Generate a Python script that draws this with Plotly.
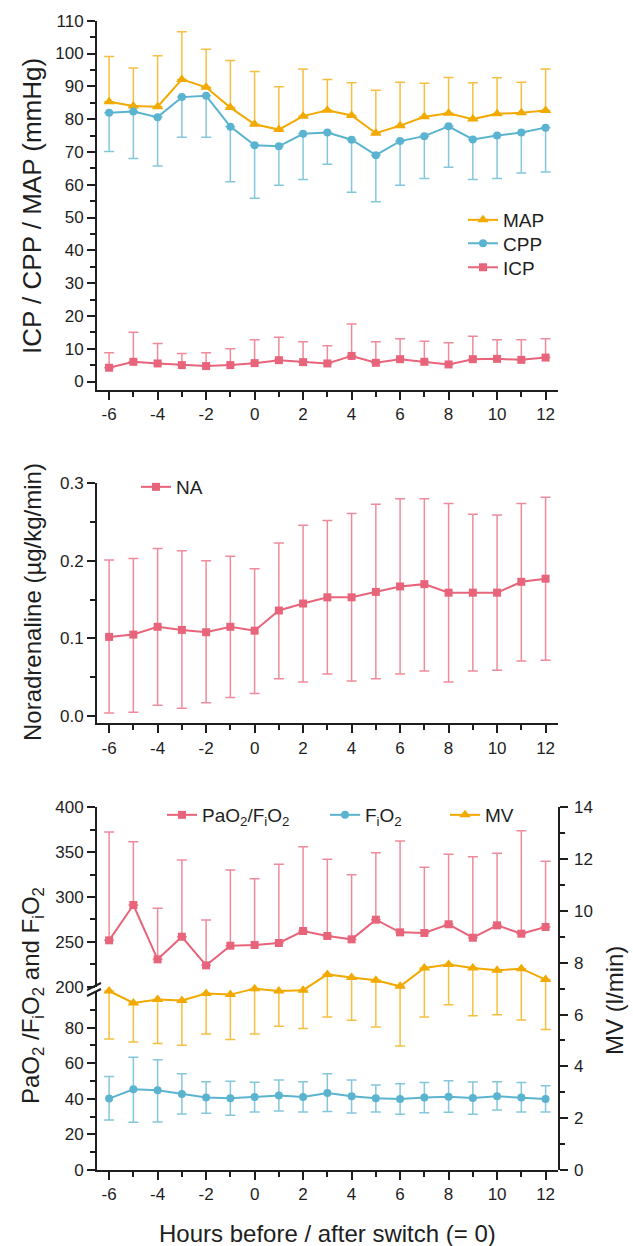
import plotly.graph_objects as go

W, H = 633, 1246

# ---------------- data ----------------
hours = list(range(-6, 13))
x_tickvals = [-6, -4, -2, 0, 2, 4, 6, 8, 10, 12]
x_ticktext = ["-6", "-4", "-2", "0", "2", "4", "6", "8", "10", "12"]
x_minor = [-5, -3, -1, 1, 3, 5, 7, 9, 11]

map_mean = [85.3, 84.0, 83.8, 92.1, 89.7, 83.5, 78.4, 76.8, 80.9, 82.7, 81.1, 75.7, 78.0, 80.7, 81.8, 80.0, 81.6, 81.9, 82.6]
map_upper = [99.1, 95.6, 99.3, 106.6, 101.3, 97.9, 94.5, 89.9, 95.3, 92.1, 91.1, 88.8, 91.2, 90.9, 92.7, 91.1, 92.6, 91.2, 95.3]
cpp_mean = [81.9, 82.3, 80.6, 86.7, 87.1, 77.7, 72.0, 71.7, 75.5, 75.9, 73.7, 69.0, 73.3, 74.8, 77.8, 73.8, 75.0, 75.9, 77.4]
cpp_lower = [70.1, 68.0, 65.7, 74.5, 74.5, 60.9, 55.9, 59.8, 61.6, 66.2, 57.7, 54.8, 59.8, 61.9, 65.3, 61.6, 61.9, 63.6, 63.9]
icp_mean = [4.2, 6.0, 5.5, 5.0, 4.7, 5.0, 5.6, 6.5, 5.9, 5.5, 7.8, 5.7, 6.8, 6.0, 5.2, 6.8, 6.9, 6.6, 7.3]
icp_upper = [8.8, 15.0, 11.6, 8.5, 8.8, 10.0, 12.7, 13.5, 12.1, 10.9, 17.5, 12.1, 13.0, 12.3, 11.8, 13.8, 12.7, 12.7, 13.0]
top_yticks = [0, 10, 20, 30, 40, 50, 60, 70, 80, 90, 100, 110]
top_yminor = [5, 15, 25, 35, 45, 55, 65, 75, 85, 95, 105]

na_mean = [0.102, 0.105, 0.115, 0.111, 0.108, 0.115, 0.110, 0.136, 0.145, 0.153, 0.153, 0.160, 0.167, 0.170, 0.159, 0.159, 0.159, 0.173, 0.177]
na_upper = [0.201, 0.203, 0.216, 0.213, 0.200, 0.206, 0.190, 0.223, 0.246, 0.252, 0.261, 0.273, 0.280, 0.280, 0.274, 0.260, 0.259, 0.274, 0.282]
na_lower = [0.004, 0.005, 0.014, 0.010, 0.017, 0.024, 0.029, 0.048, 0.044, 0.054, 0.045, 0.048, 0.054, 0.058, 0.044, 0.058, 0.059, 0.071, 0.072]
mid_yticks = [0.0, 0.1, 0.2, 0.3]
mid_yminor = [0.05, 0.15, 0.25]

pf_mean = [251.7, 291.1, 230.5, 255.7, 223.8, 245.7, 246.5, 248.7, 262.1, 256.5, 252.8, 274.7, 260.6, 259.9, 269.6, 254.6, 268.4, 259.1, 266.6]
pf_upper = [372.5, 361.7, 287.4, 341.2, 274.4, 330.1, 320.4, 336.5, 356.1, 342.0, 324.9, 349.4, 362.4, 333.1, 347.6, 344.9, 348.7, 373.9, 339.8]
fio2_mean = [40.1, 45.3, 44.8, 42.7, 40.8, 40.3, 41.0, 41.8, 41.0, 43.3, 41.4, 40.3, 39.9, 40.8, 41.2, 40.5, 41.4, 40.8, 39.9]
fio2_upper = [52.5, 63.3, 62.0, 54.1, 49.6, 49.8, 49.3, 50.6, 49.6, 54.1, 50.6, 47.8, 48.5, 49.1, 50.2, 49.5, 49.6, 49.1, 47.4]
fio2_lower = [28.1, 26.8, 27.0, 31.5, 31.9, 30.7, 32.6, 33.2, 32.6, 32.8, 32.0, 32.6, 31.3, 32.2, 32.4, 31.3, 33.7, 32.6, 32.6]
mv_mean = [6.91, 6.45, 6.58, 6.54, 6.81, 6.77, 7.00, 6.91, 6.94, 7.55, 7.43, 7.32, 7.09, 7.80, 7.93, 7.80, 7.71, 7.77, 7.35]
mv_lower = [5.06, 4.94, 4.88, 4.82, 5.25, 5.04, 5.25, 5.55, 5.46, 5.91, 5.78, 5.52, 4.79, 5.91, 6.38, 5.95, 5.99, 5.79, 5.42]
low_yticks = [0, 20, 40, 60, 80]
low_yminor = [10, 30, 50, 70, 90]
up_yticks = [200, 250, 300, 350, 400]
up_yminor = [225, 275, 325, 375]
mv_yticks = [0, 2, 4, 6, 8, 10, 12, 14]
mv_yminor = [1, 3, 5, 7, 9, 11, 13]

# ---------------- style ----------------
ORANGE = "#F2A900"
BLUE = "#5BB4CF"
RED = "#E8647A"
ORANGE_E = "rgba(242,169,0,0.75)"
BLUE_E = "rgba(91,180,207,0.75)"
RED_E = "rgba(232,100,122,0.75)"
INK = "#1e1e1e"
FONT = "Liberation Sans, Arial, sans-serif"


def px(x):
    return x / W


def py(y):
    return 1 - y / H


def diff(a, b):
    return [round(u - v, 4) for u, v in zip(a, b)]


zeros = [0] * len(hours)

fig = go.Figure()


def add(name, y, up, down, color, ecolor, symbol, size, xa, ya, legend):
    fig.add_trace(go.Scatter(
        x=hours, y=y, name=name, mode="lines+markers", xaxis=xa, yaxis=ya,
        legend=legend, cliponaxis=False,
        line=dict(color=color, width=2),
        marker=dict(symbol=symbol, size=size, color=color, line=dict(width=0)),
        error_y=dict(type="data", symmetric=False, array=up, arrayminus=down,
                     color=ecolor, thickness=1.5, width=5),
    ))


# top panel
add("MAP", map_mean, diff(map_upper, map_mean), zeros, ORANGE, ORANGE_E, "triangle-up", 10, "x", "y", "legend")
add("CPP", cpp_mean, zeros, diff(cpp_mean, cpp_lower), BLUE, BLUE_E, "circle", 8, "x", "y", "legend6")
add("ICP", icp_mean, diff(icp_upper, icp_mean), zeros, RED, RED_E, "square", 8, "x", "y", "legend7")
# middle
add("NA", na_mean, diff(na_upper, na_mean), diff(na_mean, na_lower), RED, RED_E, "square", 8, "x2", "y2", "legend2")
# bottom
add("PaO<sub>2</sub>/F<sub>i</sub>O<sub>2</sub>", pf_mean, diff(pf_upper, pf_mean), zeros, RED, RED_E, "square", 8, "x3", "y4", "legend3")
add("F<sub>i</sub>O<sub>2</sub>", fio2_mean, diff(fio2_upper, fio2_mean), diff(fio2_mean, fio2_lower), BLUE, BLUE_E, "circle", 8, "x3", "y3", "legend4")
add("MV", mv_mean, zeros, diff(mv_mean, mv_lower), ORANGE, ORANGE_E, "triangle-up", 10, "x3", "y5", "legend5")

axis_common = dict(
    showline=True, linecolor=INK, linewidth=2, ticks="outside", ticklen=8,
    tickwidth=2, tickcolor=INK, showgrid=False, zeroline=False, automargin=False,
    tickfont=dict(size=17, family=FONT, color=INK), tickmode="array",
)


def minor(vals):
    return dict(tickmode="array", tickvals=vals, ticklen=5, tickwidth=2, tickcolor=INK, ticks="outside", showgrid=False)


xdom = [px(97), px(557.7)]
xaxis_cfg = dict(axis_common, domain=xdom, range=[-6.5, 12.5], tickvals=x_tickvals,
                 ticktext=x_ticktext, minor=minor(x_minor))

legend_common = dict(bgcolor="rgba(0,0,0,0)", font=dict(size=19, family=FONT, color=INK),
                     xanchor="left", yanchor="top", itemwidth=30, tracegroupgap=0,
                     borderwidth=0)

fig.update_layout(
    template="none",
    width=W, height=H, margin=dict(l=0, r=0, t=0, b=0, pad=0, autoexpand=False),
    paper_bgcolor="white", plot_bgcolor="rgba(0,0,0,0)",
    font=dict(family=FONT, color=INK),
    xaxis=dict(xaxis_cfg, anchor="y"),
    xaxis2=dict(xaxis_cfg, anchor="y2"),
    xaxis3=dict(xaxis_cfg, anchor="y3"),
    yaxis=dict(axis_common, anchor="x", domain=[py(389.7), py(20.7)], range=[-2.5, 110],
               tickvals=top_yticks, minor=minor(top_yminor)),
    yaxis2=dict(axis_common, anchor="x2", domain=[py(723.3), py(483.3)], range=[-0.0094, 0.3],
                tickvals=mid_yticks, tickformat=".1f", minor=minor(mid_yminor)),
    yaxis3=dict(axis_common, anchor="x3", domain=[py(1170), py(992)], range=[0, 100],
                tickvals=low_yticks, minor=minor(low_yminor)),
    yaxis4=dict(axis_common, anchor="x3", domain=[py(986.7), py(807.3)], range=[200, 400],
                tickvals=up_yticks, minor=minor(up_yminor)),
    yaxis5=dict(axis_common, anchor="x3", side="right", domain=[py(1170), py(807.3)], range=[0, 14],
                tickvals=mv_yticks, minor=minor(mv_yminor), ticklabelstandoff=3),
    legend=dict(legend_common, x=px(463), y=py(201)),
    legend6=dict(legend_common, x=px(463), y=py(224.5)),
    legend7=dict(legend_common, x=px(463), y=py(248.5)),
    legend2=dict(legend_common, x=px(136), y=py(468)),
    legend3=dict(legend_common, x=px(162), y=py(796)),
    legend4=dict(legend_common, x=px(325), y=py(796)),
    legend5=dict(legend_common, x=px(445), y=py(796)),
    showlegend=True,
)

# axis titles
ann = [
    dict(text="ICP / CPP / MAP (mmHg)", x=px(32), y=py(206), size=26),
    dict(text="Noradrenaline (µg/kg/min)", x=px(32), y=py(602), size=24),
    dict(text="PaO<sub>2</sub> /F<sub>i</sub>O<sub>2</sub> and F<sub>i</sub>O<sub>2</sub>", x=px(32), y=py(996), size=24),
    dict(text="MV (l/min)", x=px(614), y=py(1001), size=24),
]
for a in ann:
    fig.add_annotation(xref="paper", yref="paper", textangle=-90, showarrow=False,
                       xanchor="center", yanchor="middle", text=a["text"], x=a["x"], y=a["y"],
                       font=dict(size=a["size"], family=FONT, color=INK))
fig.add_annotation(xref="paper", yref="paper", text="Hours before / after switch (= 0)",
                   x=px(328), y=py(1233), showarrow=False, xanchor="center", yanchor="middle",
                   font=dict(size=24, family=FONT, color=INK))

# axis-break marks
for dy in (0, 6):
    fig.add_shape(type="line", xref="paper", yref="paper",
                  x0=px(87), y0=py(993 + dy - 3), x1=px(101), y1=py(986 + dy - 3),
                  line=dict(color=INK, width=2))

fig.write_html("out.html", config={"displayModeBar": False},
               post_script="document.body.style.margin='0';document.body.style.overflow='hidden';")
